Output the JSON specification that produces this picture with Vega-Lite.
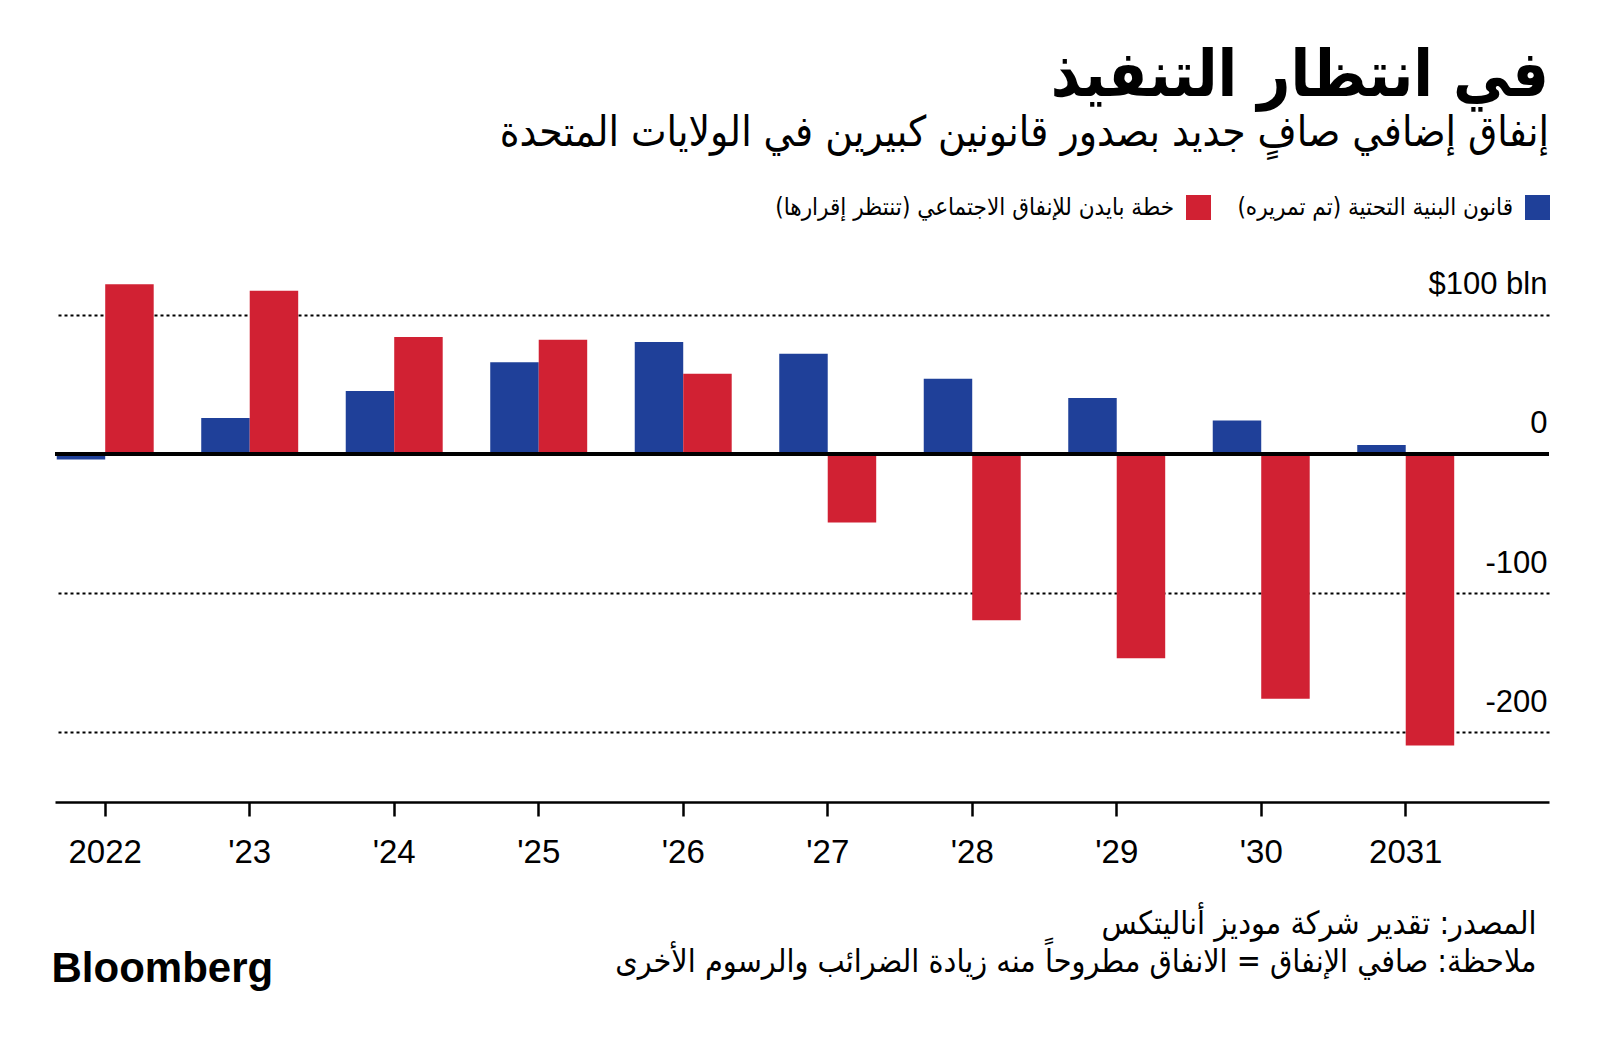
{
  "$schema": "https://vega.github.io/schema/vega-lite/v6.json",
  "width": 1494,
  "height": 529,
  "autosize": {"type": "none"},
  "padding": {"left": 55, "top": 273, "right": 51, "bottom": 245},
  "background": "white",
  "title": {
    "text": "في انتظار التنفيذ",
    "subtitle": "إنفاق إضافي صافٍ جديد بصدور قانونين كبيرين في الولايات المتحدة",
    "anchor": "end",
    "frame": "group",
    "align": "right",
    "font": "DejaVu Sans Condensed, DejaVu Sans",
    "fontSize": 64,
    "fontWeight": "bold",
    "color": "black",
    "subtitleFont": "DejaVu Sans Condensed, DejaVu Sans",
    "subtitleFontSize": 42,
    "subtitleColor": "black",
    "subtitlePadding": 4,
    "offset": 41
  },
  "data": {
    "values": [
      {"year": "2022", "series": "قانون البنية التحتية (تم تمريره)", "value": -4},
      {"year": "2022", "series": "خطة بايدن للإنفاق الاجتماعي (تنتظر إقرارها)", "value": 122},
      {"year": "2023", "series": "قانون البنية التحتية (تم تمريره)", "value": 25.8},
      {"year": "2023", "series": "خطة بايدن للإنفاق الاجتماعي (تنتظر إقرارها)", "value": 117.3},
      {"year": "2024", "series": "قانون البنية التحتية (تم تمريره)", "value": 45.3},
      {"year": "2024", "series": "خطة بايدن للإنفاق الاجتماعي (تنتظر إقرارها)", "value": 84},
      {"year": "2025", "series": "قانون البنية التحتية (تم تمريره)", "value": 65.8},
      {"year": "2025", "series": "خطة بايدن للإنفاق الاجتماعي (تنتظر إقرارها)", "value": 82.1},
      {"year": "2026", "series": "قانون البنية التحتية (تم تمريره)", "value": 80.5},
      {"year": "2026", "series": "خطة بايدن للإنفاق الاجتماعي (تنتظر إقرارها)", "value": 57.7},
      {"year": "2027", "series": "قانون البنية التحتية (تم تمريره)", "value": 72},
      {"year": "2027", "series": "خطة بايدن للإنفاق الاجتماعي (تنتظر إقرارها)", "value": -49.3},
      {"year": "2028", "series": "قانون البنية التحتية (تم تمريره)", "value": 54.1},
      {"year": "2028", "series": "خطة بايدن للإنفاق الاجتماعي (تنتظر إقرارها)", "value": -119.4},
      {"year": "2029", "series": "قانون البنية التحتية (تم تمريره)", "value": 40.2},
      {"year": "2029", "series": "خطة بايدن للإنفاق الاجتماعي (تنتظر إقرارها)", "value": -146.7},
      {"year": "2030", "series": "قانون البنية التحتية (تم تمريره)", "value": 24.1},
      {"year": "2030", "series": "خطة بايدن للإنفاق الاجتماعي (تنتظر إقرارها)", "value": -175.9},
      {"year": "2031", "series": "قانون البنية التحتية (تم تمريره)", "value": 6.5},
      {"year": "2031", "series": "خطة بايدن للإنفاق الاجتماعي (تنتظر إقرارها)", "value": -209.5}
    ]
  },
  "layer": [
    {
      "mark": {"type": "bar", "strokeWidth": 0},
      "encoding": {
        "x": {
          "field": "year",
          "type": "nominal",
          "sort": null,
          "scale": {"paddingInner": 0.329, "paddingOuter": 0.334, "align": 0.018},
          "axis": {
            "title": ["المصدر: تقدير شركة موديز أناليتكس", "ملاحظة: صافي الإنفاق = الانفاق مطروحاً منه زيادة الضرائب والرسوم الأخرى"],
            "titleX": 1481,
            "titleY": 131,
            "titleAlign": "right",
            "titleAnchor": "end",
            "titleBaseline": "alphabetic",
            "titleFont": "DejaVu Sans Condensed, DejaVu Sans",
            "titleFontSize": 32,
            "titleFontWeight": "normal",
            "titleLineHeight": 38,
            "titleColor": "black",
            "labelExpr": "datum.value === '2022' || datum.value === '2031' ? datum.value : \"'\" + substring(datum.value, 2)",
            "labelFont": "Liberation Sans",
            "labelFontSize": 33,
            "labelColor": "black",
            "labelAngle": 0,
            "labelPadding": 20,
            "labelBaseline": "top",
            "tickSize": 14,
            "tickWidth": 2.5,
            "tickColor": "black",
            "domainColor": "black",
            "domainWidth": 2.5,
            "grid": false
          }
        },
        "xOffset": {
          "field": "series",
          "type": "nominal",
          "scale": {"domain": ["قانون البنية التحتية (تم تمريره)", "خطة بايدن للإنفاق الاجتماعي (تنتظر إقرارها)"], "paddingInner": 0, "paddingOuter": 0}
        },
        "y": {
          "field": "value",
          "type": "quantitative",
          "scale": {"domain": [-250, 130], "nice": false, "zero": false},
          "axis": {
            "orient": "right",
            "values": [100, 0, -100, -200],
            "title": "Bloomberg",
            "titleAngle": 0,
            "titleX": -1498,
            "titleY": 708,
            "titleAlign": "left",
            "titleBaseline": "alphabetic",
            "titleFont": "Liberation Sans",
            "titleFontSize": 42,
            "titleFontWeight": "bold",
            "titleColor": "black",
            "labelExpr": "datum.value == 100 ? '$100 bln' : '' + datum.value",
            "labelAlign": "right",
            "labelBaseline": "alphabetic",
            "labelPadding": -2,
            "labelOffset": -21,
            "labelFont": "Liberation Sans",
            "labelFontSize": 31,
            "labelColor": "black",
            "ticks": false,
            "tickSize": 0,
            "domain": false,
            "grid": true,
            "gridColor": "black",
            "gridDash": [3, 3],
            "gridWidth": 2,
            "gridOpacity": {"condition": {"test": "datum.value === 0", "value": 0}, "value": 1}
          }
        },
        "color": {
          "field": "series",
          "type": "nominal",
          "scale": {
            "domain": ["خطة بايدن للإنفاق الاجتماعي (تنتظر إقرارها)", "قانون البنية التحتية (تم تمريره)"],
            "range": ["#D12133", "#1F4099"]
          },
          "legend": {
            "orient": "none",
            "legendX": 1131,
            "legendY": -78,
            "direction": "horizontal",
            "title": null,
            "symbolType": "square",
            "symbolSize": 625,
            "symbolStrokeWidth": 0,
            "symbolOpacity": 1,
            "labelAlign": "right",
            "labelOffset": -37,
            "labelFont": "DejaVu Sans Condensed, DejaVu Sans",
            "labelFontSize": 24,
            "labelColor": "black",
            "labelLimit": 700,
            "columnPadding": 26
          }
        }
      }
    },
    {
      "mark": {"type": "rule", "color": "black", "strokeWidth": 2.5},
      "encoding": {"y": {"datum": 0}}
    }
  ],
  "config": {"view": {"stroke": null}}
}
